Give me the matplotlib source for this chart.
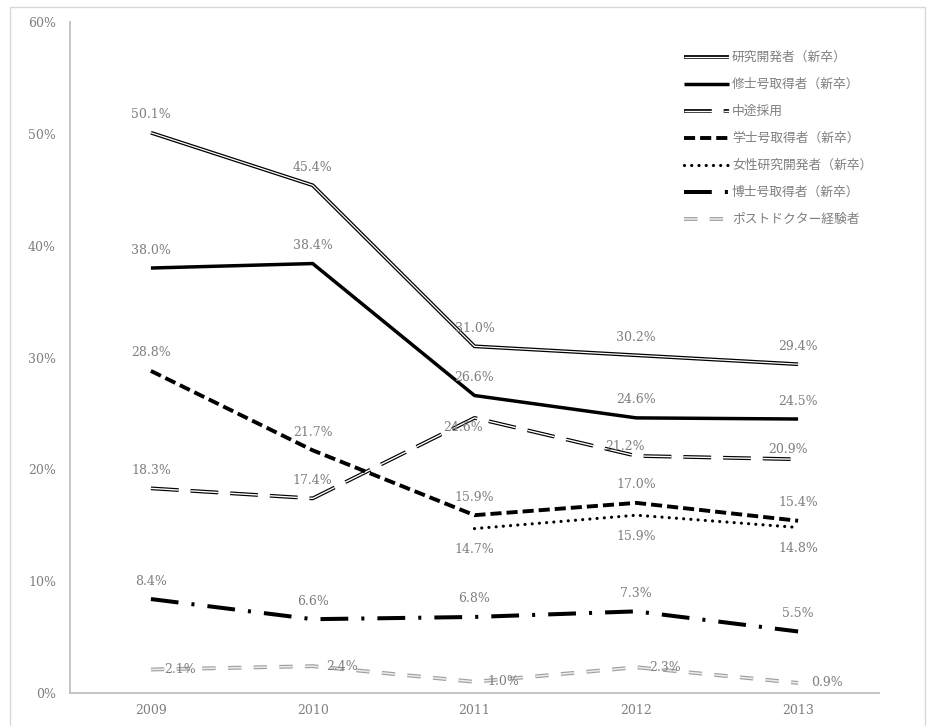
import numpy as np
import matplotlib
matplotlib.use('Agg')
import matplotlib.pyplot as plt
from matplotlib.lines import Line2D
from matplotlib.patches import Rectangle
from matplotlib.font_manager import FontProperties

plt.rcParams['font.family'] = ['DejaVu Serif']
plt.rcParams['lines.scale_dashes'] = False

# data (percent)
years = ['2009', '2010', '2011', '2012', '2013']
researchers = [50.1, 45.4, 31.0, 30.2, 29.4]
masters = [38.0, 38.4, 26.6, 24.6, 24.5]
midcareer = [18.3, 17.4, 24.6, 21.2, 20.9]
bachelors = [28.8, 21.7, 15.9, 17.0, 15.4]
women = [np.nan, np.nan, 14.7, 15.9, 14.8]
doctors = [8.4, 6.6, 6.8, 7.3, 5.5]
postdocs = [2.1, 2.4, 1.0, 2.3, 0.9]

names = ['研究開発者（新卒）', '修士号取得者（新卒）', '中途採用', '学士号取得者（新卒）',
         '女性研究開発者（新卒）', '博士号取得者（新卒）', 'ポストドクター経験者']

gray_txt = '#7f7f7f'
axis_col = '#bfbfbf'

fig = plt.figure(figsize=(9.35, 7.26), dpi=100)
ax = fig.add_axes([70 / 935, 33 / 726, 809 / 935, 671 / 726])
x = np.arange(len(years))

# style per series: list of (color, linewidth, dashes) layers
styles = [
    [('black', 2.7, None), ('white', 0.9, None)],
    [('black', 2.5, None)],
    [('black', 2.7, (20, 8.6)), ('white', 1.0, (20, 8.6))],
    [('black', 2.8, (8, 3.6))],
    [('black', 2.3, (0.01, 5.2))],
    [('black', 2.9, (20, 9.4, 2.2, 9.4))],
    [('#a0a0a0', 2.8, (9.6, 8.9)), ('#ececec', 1.1, (9.6, 8.9))],
]
series = [researchers, masters, midcareer, bachelors, women, doctors, postdocs]

handles = []
for vals, layers in zip(series, styles):
    hs = []
    for col, lw, dash in layers:
        kw = dict(color=col, lw=lw, solid_capstyle='butt', dash_capstyle='butt',
                  solid_joinstyle='miter')
        if dash is not None:
            kw['dashes'] = dash
            if dash[0] < 0.1:
                kw['dash_capstyle'] = 'round'
        ax.plot(x, vals, **kw)
        hs.append(Line2D([], [], **kw))
    handles.append(tuple(hs))

# data labels (pixel offsets from point)
offsets = [
    [(0, 18)] * 5,
    [(0, 18)] * 5,
    [(0, 18), (0, 18), (-11, -10), (-11, 9), (-10, 10)],
    [(0, 18)] * 5,
    [(0, -21)] * 5,
    [(0, 18)] * 5,
    [(29, 0)] * 5,
]
for vals, offs in zip(series, offsets):
    for xi, v, off in zip(x, vals, offs):
        if np.isnan(v):
            continue
        ax.annotate(f'{v:.1f}%', (xi, v), xytext=off, textcoords='offset pixels',
                    ha='center', va='center', fontsize=9, color=gray_txt)

ax.set_xlim(-0.5, 4.5)
ax.set_ylim(0, 60)
ax.set_xticks(x)
ax.set_xticklabels(years)
ax.set_yticks(np.arange(0, 61, 10))
ax.set_yticklabels([f'{t}%' for t in range(0, 61, 10)])
ax.tick_params(length=0, labelsize=9, labelcolor=gray_txt)
ax.tick_params(axis='x', pad=8)
ax.tick_params(axis='y', pad=10)
for s in ['top', 'right']:
    ax.spines[s].set_visible(False)
for s in ['left', 'bottom']:
    ax.spines[s].set_color(axis_col)
    ax.spines[s].set_linewidth(1.3)

leg = fig.legend(handles, names, loc='upper left',
                 bbox_to_anchor=(684 / 935, 1 - 51 / 726), bbox_transform=fig.transFigure,
                 frameon=False, borderpad=0, borderaxespad=0, handlelength=3.5,
                 handletextpad=0.25, labelspacing=1.1, labelcolor=gray_txt,
                 prop=FontProperties(family=['Noto Sans CJK JP', 'DejaVu Sans'], size=9.2))

# chart border
fig.add_artist(Rectangle((10 / 935, -0.02), 915 / 935, 1.02 - 7 / 726, transform=fig.transFigure,
                         fill=False, edgecolor='#d9d9d9', lw=1))

fig.savefig('out.png', dpi=100)
